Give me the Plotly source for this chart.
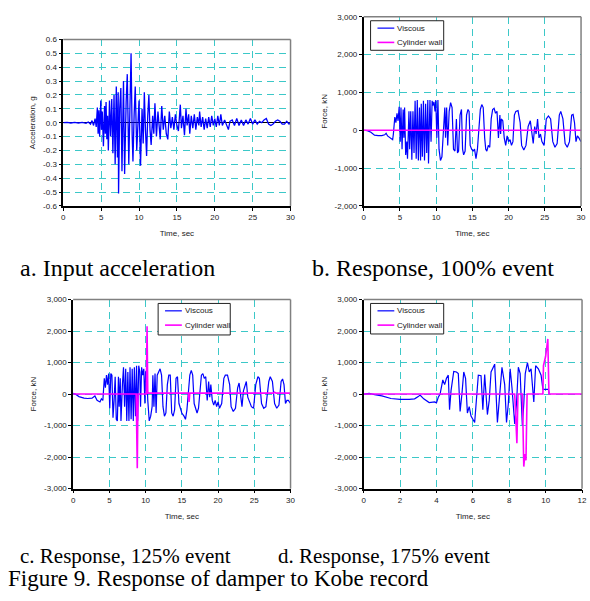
import plotly.graph_objects as go

W, H = 590, 601

# ---------------- data ----------------
# a. Input acceleration (g) vs time (s)
acc_time = [0.0, 0.5, 1.0, 1.5, 2.0, 2.5, 3.0, 3.3, 3.6, 3.8, 4.0, 4.2, 4.35, 4.5, 4.6, 4.7, 4.8,
            4.95, 5.05, 5.15, 5.3, 5.45, 5.55, 5.65, 5.75, 5.85, 5.95, 6.1, 6.25, 6.4, 6.55, 6.7,
            6.85, 7.0, 7.15, 7.25, 7.3, 7.45, 7.6, 7.75, 7.95, 8.1, 8.3, 8.45, 8.65, 8.85, 8.95,
            9.1, 9.2, 9.35, 9.5, 9.7, 9.85, 10.0, 10.2, 10.4, 10.55, 10.7, 10.85, 11.0, 11.15,
            11.3, 11.45, 11.6, 11.8, 11.95, 12.1, 12.3, 12.5, 12.65, 12.8, 13.0, 13.2, 13.4, 13.6,
            13.8, 14.0, 14.2, 14.4, 14.6, 14.8, 15.0, 15.2, 15.45, 15.6, 15.8, 16.0, 16.2, 16.35,
            16.55, 16.7, 16.9, 17.1, 17.3, 17.5, 17.7, 17.9, 18.0, 18.2, 18.4, 18.6, 18.8, 19.0,
            19.2, 19.4, 19.6, 19.8, 20.0, 20.2, 20.4, 20.6, 20.8, 21.0, 21.3, 21.6, 21.8, 22.0,
            22.3, 22.6, 22.9, 23.2, 23.5, 23.8, 24.1, 24.4, 24.7, 25.0, 25.3, 25.6, 25.9, 26.2,
            26.5, 26.8, 27.1, 27.4, 27.7, 28.0, 28.3, 28.6, 28.9, 29.2, 29.5, 29.8, 30.0]
acc_g = [0.0, 0.002, -0.002, 0.002, -0.002, 0.002, -0.005, 0.005, -0.01, 0.015, -0.02, 0.03, -0.03,
         0.11, -0.08, 0.09, -0.1, 0.16, -0.05, 0.08, -0.17, 0.12, -0.08, 0.15, -0.12, 0.05, -0.2,
         0.16, -0.1, 0.17, -0.22, 0.2, -0.3, 0.26, -0.25, 0.22, -0.51, 0.1, 0.25, -0.35, 0.3, -0.37,
         0.15, 0.35, -0.3, 0.2, 0.5, -0.1, -0.28, 0.05, 0.26, -0.2, 0.05, 0.16, -0.31, 0.1, -0.15,
         0.22, -0.05, -0.24, 0.05, 0.2, -0.05, -0.16, 0.05, -0.08, 0.14, -0.1, 0.08, -0.05, -0.12,
         0.12, -0.05, 0.05, -0.08, -0.12, 0.08, -0.04, 0.04, -0.05, 0.06, -0.02, -0.06, 0.13, -0.04,
         0.05, -0.09, 0.1, -0.02, 0.06, -0.08, 0.05, -0.04, 0.06, -0.05, 0.04, -0.02, 0.08, -0.03,
         0.04, -0.05, 0.03, -0.04, 0.04, -0.03, 0.05, -0.02, 0.03, -0.03, 0.05, -0.02, 0.06, -0.02,
         0.02, -0.03, -0.05, 0.01, 0.02, -0.02, 0.03, -0.02, 0.02, -0.02, 0.02, -0.01, 0.03, -0.01,
         0.02, -0.01, 0.01, 0.0, 0.02, 0.03, -0.01, -0.02, -0.01, 0.01, 0.02, 0.01, -0.01, -0.01,
         0.01, -0.01, 0.0]

# b. Response, 100% event (kN)
b_time = [0, 0.5, 1.0, 1.5, 2.0, 2.5, 2.9, 3.1, 3.3, 3.6, 4.0, 4.1, 4.3, 4.45, 4.6, 4.75, 4.9, 5.05,
          5.15, 5.3, 5.45, 5.55, 5.65, 5.8, 5.95, 6.05, 6.25, 6.35, 6.5, 6.65, 6.8, 6.95, 7.1, 7.25,
          7.4, 7.55, 7.7, 7.85, 7.95, 8.1, 8.25, 8.4, 8.55, 8.7, 8.85, 8.95, 9.15, 9.3, 9.45, 9.55,
          9.7, 9.85, 9.95, 10.1, 10.25, 10.4, 10.6, 10.8, 10.95, 11.2, 11.3, 11.45, 11.6, 11.8, 12.0,
          12.2, 12.4, 12.6, 12.8, 12.95, 13.1, 13.3, 13.5, 13.65, 13.8, 14.0, 14.2, 14.4, 14.55, 14.7,
          14.9, 15.1, 15.3, 15.5, 15.7, 15.9, 16.1, 16.3, 16.5, 16.7, 16.85, 17.0, 17.2, 17.4, 17.6,
          17.8, 18.0, 18.2, 18.4, 18.6, 18.8, 18.9, 19.0, 19.2, 19.4, 19.6, 19.8, 20.0, 20.2, 20.4,
          20.6, 20.8, 21.0, 21.3, 21.6, 21.8, 22.1, 22.4, 22.7, 23.0, 23.2, 23.4, 23.6, 23.8, 24.0,
          24.2, 24.4, 24.6, 24.9, 25.2, 25.5, 25.8, 26.1, 26.4, 26.7, 27.0, 27.2, 27.5, 27.8, 28.1,
          28.4, 28.7, 28.9, 29.1, 29.3, 29.5, 29.7, 30]
b_viscous = [0, -10, -50, -130, -140, -140, -120, -80, -150, -200, -250, -100, 350, 200, 450, 250,
             620, -300, 600, -500, 550, -200, 600, -650, -300, -750, 500, -500, 500, -780, 500, -600,
             780, -750, 800, -800, 600, -800, 700, -700, 780, -800, 700, -600, 800, -880, 800, -300,
             780, 650, 750, 500, 800, -200, 800, -500, -800, -700, -300, 600, -200, 600, -400, 500,
             730, 600, -500, -550, 300, -600, -550, 400, 550, -500, -650, -550, 400, 550, 500, -400,
             -500, -550, -500, -750, -500, 200, 550, 680, 600, -200, -500, -550, -400, -450, 300, 550,
             580, 450, 500, -200, 400, -100, 300, 250, -200, -400, -150, -300, -250, -400, -300, 400,
             500, 520, 200, -400, -520, -400, 100, 250, -100, -350, 100, -100, 300, -200, -100, -300,
             -400, 300, 380, 300, -300, -450, -350, 400, 500, 300, -350, -450, -300, 400, 420, 200,
             -300, -150, -200, -300]
b_wall_time = [0, 30]
b_wall = [0, 0]

# c. Response, 125% event (kN)
c_time = [0, 0.3, 0.8, 1.5, 2.0, 2.6, 3.0, 3.3, 3.7, 3.9, 4.1, 4.3, 4.45, 4.6, 4.75, 4.9, 5.05, 5.2,
          5.35, 5.5, 5.65, 5.8, 5.95, 6.1, 6.25, 6.35, 6.5, 6.6, 6.8, 6.95, 7.1, 7.25, 7.4, 7.55,
          7.7, 7.85, 8.0, 8.15, 8.3, 8.45, 8.6, 8.75, 8.9, 9.05, 9.2, 9.3, 9.45, 9.6, 9.75, 9.9,
          10.0, 10.15, 10.3, 10.5, 10.7, 10.9, 11.0, 11.15, 11.3, 11.45, 11.6, 11.8, 12.0, 12.2,
          12.4, 12.6, 12.8, 13.0, 13.2, 13.4, 13.6, 13.8, 14.0, 14.2, 14.4, 14.6, 14.8, 15.0, 15.3,
          15.5, 15.7, 15.9, 16.1, 16.3, 16.5, 16.7, 16.9, 17.1, 17.3, 17.5, 17.7, 17.9, 18.1, 18.3,
          18.5, 18.7, 18.85, 19.0, 19.2, 19.4, 19.6, 19.8, 20.0, 20.2, 20.5, 20.8, 21.0, 21.3, 21.6,
          21.8, 22.1, 22.4, 22.7, 22.9, 23.1, 23.3, 23.5, 23.7, 23.9, 24.1, 24.3, 24.6, 24.9, 25.2,
          25.5, 25.7, 26.0, 26.3, 26.6, 27.0, 27.2, 27.5, 27.8, 28.1, 28.4, 28.7, 28.9, 29.1, 29.3,
          29.5, 29.7, 30]
c_viscous = [20, 0, -80, -130, -140, -130, -60, -200, -250, -150, -200, 500, 200, 600, 300, 650,
             -450, 650, 600, -750, -200, 550, -800, -850, 550, -400, 500, -850, 300, 850, -400, 800,
             -850, 700, -850, 850, -800, 800, -850, 850, -700, 900, -850, 900, 700, -400, 850, 600,
             800, -300, 700, 750, -200, -850, -700, -400, 600, -400, 650, -600, 600, 700, 800, 600,
             -400, -700, -600, 300, 600, 600, -600, -700, -500, 500, 550, -300, -500, -600, -700,
             -800, -500, 200, 600, 750, 600, -300, -500, -600, -450, 200, 600, 650, 500, 550, -200,
             400, -100, 300, -200, -350, -200, -400, -250, -450, -300, 500, 600, 600, 300, -400,
             -550, -450, 200, 350, -100, -400, 100, 250, 400, -100, -200, -400, -450, 300, 550, 500,
             -300, -450, -400, 400, 550, 400, -300, -450, -350, 400, 480, 300, -300, -200, -200,
             -300]
c_wall_time = [0, 8.7, 8.85, 8.95, 10.1, 10.2, 10.3, 15.9, 16.0, 16.1, 27.6, 27.8, 28.0, 30]
c_wall = [0, 0, -2350, 0, 0, 2150, 30, 30, -250, 30, 30, 60, 30, 30]

# d. Response, 175% event (kN)
d_time = [0, 0.3, 0.6, 1.0, 1.5, 2.0, 2.5, 2.8, 3.0, 3.1, 3.3, 3.6, 3.9, 4.0, 4.1, 4.2, 4.35, 4.45,
          4.55, 4.65, 4.72, 4.8, 4.95, 5.1, 5.2, 5.3, 5.4, 5.5, 5.6, 5.7, 5.8, 5.9, 6.1, 6.2, 6.3,
          6.45, 6.55, 6.65, 6.8, 6.9, 7.0, 7.2, 7.35, 7.45, 7.6, 7.75, 7.85, 7.95, 8.05, 8.15, 8.3,
          8.4, 8.5, 8.6, 8.72, 8.8, 8.88, 9.0, 9.1, 9.2, 9.35, 9.45, 9.6, 9.75, 9.85, 10.0, 10.15,
          10.2]
d_viscous = [0, 20, -20, -60, -140, -170, -170, -150, -80, -30, -150, -270, -250, -280, -100, 0,
             450, 300, 500, 600, -500, 100, 720, 700, 650, -550, 0, 700, 500, -600, -400, -700, -900,
             -200, 600, 580, -500, 620, -650, -200, 700, 950, -900, -200, 850, 300, -900, -300, 800,
             200, -950, -300, 850, 650, -1000, -300, 650, 1000, 700, 800, -250, 900, 800, 600, 150,
             150, 150, 0]
d_wall_time = [0, 8.3, 8.42, 8.48, 8.72, 8.8, 8.86, 8.92, 8.98, 9.85, 9.88, 10.0, 10.12, 10.18, 12]
d_wall = [0, 0, -1560, 0, 0, -2300, -1900, -2100, 0, 0, 900, 1200, 1750, 0, 0]

# tick labels
acc_ticks = [-0.6, -0.5, -0.4, -0.3, -0.2, -0.1, 0.0, 0.1, 0.2, 0.3, 0.4, 0.5, 0.6]
acc_ticktext = ["-0.6", "-0.5", "-0.4", "-0.3", "-0.2", "-0.1", "0.0",
                "0.1", "0.2", "0.3", "0.4", "0.5", "0.6"]
force_ticks_b = [-2000, -1000, 0, 1000, 2000, 3000]
force_ticktext_b = ["-2,000", "-1,000", "0", "1,000", "2,000", "3,000"]
force_ticks_cd = [-3000, -2000, -1000, 0, 1000, 2000, 3000]
force_ticktext_cd = ["-3,000", "-2,000", "-1,000", "0", "1,000", "2,000", "3,000"]

series_names = ["Viscous", "Cylinder wall"]
captions = ["a. Input acceleration", "b. Response, 100% event",
            "c. Response, 125% event", "d. Response, 175% event",
            "Figure 9. Response of damper to Kobe record"]

# ---------------- styling ----------------
BLUE = "#0000FF"
MAGENTA = "#FF00FF"
GRID = "#3CC8C8"
TEXT = "#222222"
SANS = "Liberation Sans, Arial, sans-serif"
SERIF = "Liberation Serif, Times New Roman, serif"


def px_x(a, b):
    return [a / W, b / W]


def px_y(top, bottom):
    return [1 - bottom / H, 1 - top / H]


panels = {
    "a": dict(x=px_x(62, 292), y=px_y(36, 205)),
    "b": dict(x=px_x(366, 586), y=px_y(13, 205)),
    "c": dict(x=px_x(72, 292), y=px_y(300, 492)),
    "d": dict(x=px_x(366, 587), y=px_y(300, 492)),
}

fig = go.Figure()

# panel a
fig.add_trace(go.Scatter(x=acc_time, y=acc_g, mode="lines", xaxis="x", yaxis="y",
                         line=dict(color=BLUE, width=1.3), showlegend=False))
# panels b, c, d: viscous force and cylinder wall force
for ax, (vt, vf, wt, wf) in zip(["2", "3", "4"],
                                [(b_time, b_viscous, b_wall_time, b_wall),
                                 (c_time, c_viscous, c_wall_time, c_wall),
                                 (d_time, d_viscous, d_wall_time, d_wall)]):
    fig.add_trace(go.Scatter(x=vt, y=vf, mode="lines", name=series_names[0],
                             xaxis="x" + ax, yaxis="y" + ax,
                             line=dict(color=BLUE, width=1.2), showlegend=False))
    fig.add_trace(go.Scatter(x=wt, y=wf, mode="lines", name=series_names[1],
                             xaxis="x" + ax, yaxis="y" + ax,
                             line=dict(color=MAGENTA, width=1.6), showlegend=False))


def xaxis(domain, rng, dtick, anchor):
    return dict(domain=domain, range=rng, anchor=anchor, dtick=dtick, tick0=0,
                showgrid=True, gridcolor=GRID, gridwidth=1, griddash="7px,5px",
                zeroline=False, showline=True, linecolor="black", linewidth=1.5,
                ticks="outside", ticklen=3, tickcolor="black",
                tickfont=dict(family=SANS, size=8, color=TEXT),
                title=dict(text="Time, sec", font=dict(family=SANS, size=8, color=TEXT), standoff=9))


def yaxis(domain, rng, vals, text, title, anchor, zeroline=False):
    return dict(domain=domain, range=rng, anchor=anchor, tickmode="array", tickvals=vals,
                ticktext=text, showgrid=True, gridcolor=GRID, gridwidth=1, griddash="7px,5px",
                zeroline=zeroline, zerolinecolor="black", zerolinewidth=1,
                showline=True, linecolor="black", linewidth=1.5,
                ticks="outside", ticklen=3, tickcolor="black",
                tickfont=dict(family=SANS, size=8, color=TEXT),
                title=dict(text=title, font=dict(family=SANS, size=8, color=TEXT), standoff=6))


fig.update_layout(
    width=W, height=H, margin=dict(l=0, r=0, t=0, b=0),
    paper_bgcolor="white", plot_bgcolor="white", showlegend=False,
    xaxis=xaxis(panels["a"]["x"], [0, 30], 5, "y"),
    yaxis=yaxis(panels["a"]["y"], [-0.6, 0.6], acc_ticks, acc_ticktext, "Acceleration, g", "x", True),
    xaxis2=xaxis(panels["b"]["x"], [0, 30], 5, "y2"),
    yaxis2=yaxis(panels["b"]["y"], [-2000, 3000], force_ticks_b, force_ticktext_b, "Force, kN", "x2"),
    xaxis3=xaxis(panels["c"]["x"], [0, 30], 5, "y3"),
    yaxis3=yaxis(panels["c"]["y"], [-3000, 3000], force_ticks_cd, force_ticktext_cd, "Force, kN", "x3"),
    xaxis4=xaxis(panels["d"]["x"], [0, 12], 2, "y4"),
    yaxis4=yaxis(panels["d"]["y"], [-3000, 3000], force_ticks_cd, force_ticktext_cd, "Force, kN", "x4"),
)

# grey top / right frame of each plot area
for k in ["", "2", "3", "4"]:
    for (x0, y0, x1, y1) in [(0, 1, 1, 1), (1, 0, 1, 1)]:
        fig.add_shape(type="line", xref=f"x{k} domain", yref=f"y{k} domain",
                      x0=x0, y0=y0, x1=x1, y1=y1, line=dict(color="#808080", width=1.5))

# compact boxed legends (left, top, right, bottom in pixels)
legend_boxes = [(373, 17, 447, 47), (158, 304, 231, 336), (373, 304, 447, 335)]
for (l, t, r, b) in legend_boxes:
    fig.add_shape(type="rect", xref="paper", yref="paper",
                  x0=l / W, x1=r / W, y0=1 - b / H, y1=1 - t / H,
                  line=dict(color=TEXT, width=1), fillcolor="white", layer="above")
    rows = [(t + 7.5, BLUE, 1.2), (t + 22, MAGENTA, 1.6)]
    for name, (ry, col, lw) in zip(series_names, rows):
        fig.add_shape(type="line", xref="paper", yref="paper",
                      x0=(l + 7) / W, x1=(l + 24) / W, y0=1 - ry / H, y1=1 - ry / H,
                      line=dict(color=col, width=lw), layer="above")
        fig.add_annotation(text=name, xref="paper", yref="paper", x=(l + 25) / W, y=1 - ry / H,
                           xanchor="left", yanchor="middle", showarrow=False,
                           font=dict(family=SANS, size=8, color=TEXT))

# figure captions: (left px, centre px, font size)
cap_pos = [(16, 268, 24), (312, 268, 24), (16, 560, 21), (277, 560, 21), (4, 583, 23)]
for text, (cx, cy, fs) in zip(captions, cap_pos):
    fig.add_annotation(text=text, xref="paper", yref="paper", x=cx / W, y=1 - cy / H,
                       xanchor="left", yanchor="middle", showarrow=False,
                       font=dict(family=SERIF, size=fs, color="black"))

fig.write_html("out.html")
